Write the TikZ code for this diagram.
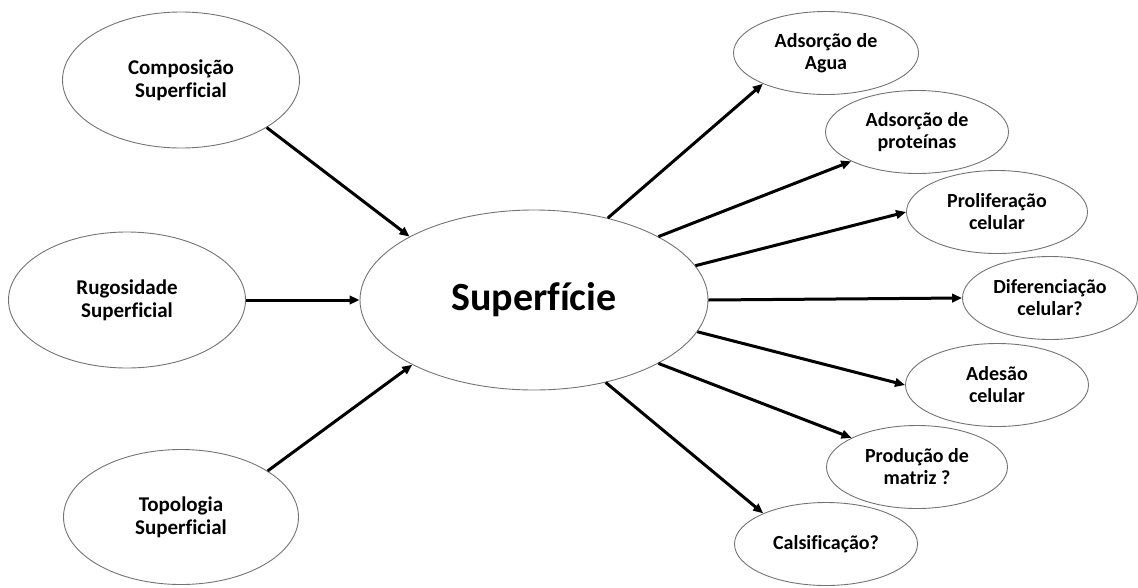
\documentclass[tikz,border=0pt]{standalone}
\usepackage{fontspec}
\setmainfont{Carlito}[Ligatures=NoCommon]
\usetikzlibrary{shapes.geometric,arrows.meta}
\begin{document}
\begin{tikzpicture}[x=1pt,y=-1pt,
  bub/.style={ellipse,draw=black!55,line width=0.9pt,inner sep=0pt,align=center,font=\fontsize{20}{22}\selectfont\bfseries},
  big/.style={bub,minimum width=237pt,minimum height=136pt,font=\fontsize{21}{23}\selectfont\bfseries},
  small/.style={bub,minimum width=183pt,minimum height=83pt},
  arr/.style={line width=3pt,-{Triangle[length=10pt,width=8.5pt]}}]
\useasboundingbox (0,0) rectangle (1138,587);
% left
\node[big] (comp) at (181,80) {Composição\\Superficial};
\node[big] (rug) at (127,300) {Rugosidade\\Superficial};
\node[big,minimum width=235pt,minimum height=135pt] (top) at (181,517) {Topologia\\Superficial};
% center
\node[bub,minimum width=348pt,minimum height=180pt,font=\fontsize{40}{44}\selectfont\bfseries] (sup) at (534,300) {Superfície};
% right
\node[small,minimum width=185pt] (agua) at (826,53) {Adsorção de\\Agua};
\node[small] (prot) at (917,132) {Adsorção de\\proteínas};
\node[small,minimum width=181pt] (prolif) at (997,212) {Proliferação\\celular};
\node[small,minimum width=175pt] (dif) at (1050,298) {Diferenciação\\celular?};
\node[small] (ades) at (997,385) {Adesão\\celular};
\node[small,minimum width=181pt] (prod) at (917,467) {Produção de\\matriz ?};
\node[small] (calc) at (826,544) {Calsificação?};
% connectors in
\draw[arr] (comp.-29.5) -- (sup.153);
\draw[arr] (rug.0) -- (sup.180);
\draw[arr] (top.28.7) -- (sup.208);
% connectors out
\draw[arr] (sup.48) -- (agua.206.6);
\draw[arr] (sup.27) -- (prot.204.8);
\draw[arr] (sup.12.3) -- (prolif.180);
\draw[arr] (sup.0) -- (dif.180);
\draw[arr] (sup.-11) -- (ades.180);
\draw[arr] (sup.-27) -- (prod.156);
\draw[arr] (sup.-49) -- (calc.154);
\end{tikzpicture}
\end{document}
